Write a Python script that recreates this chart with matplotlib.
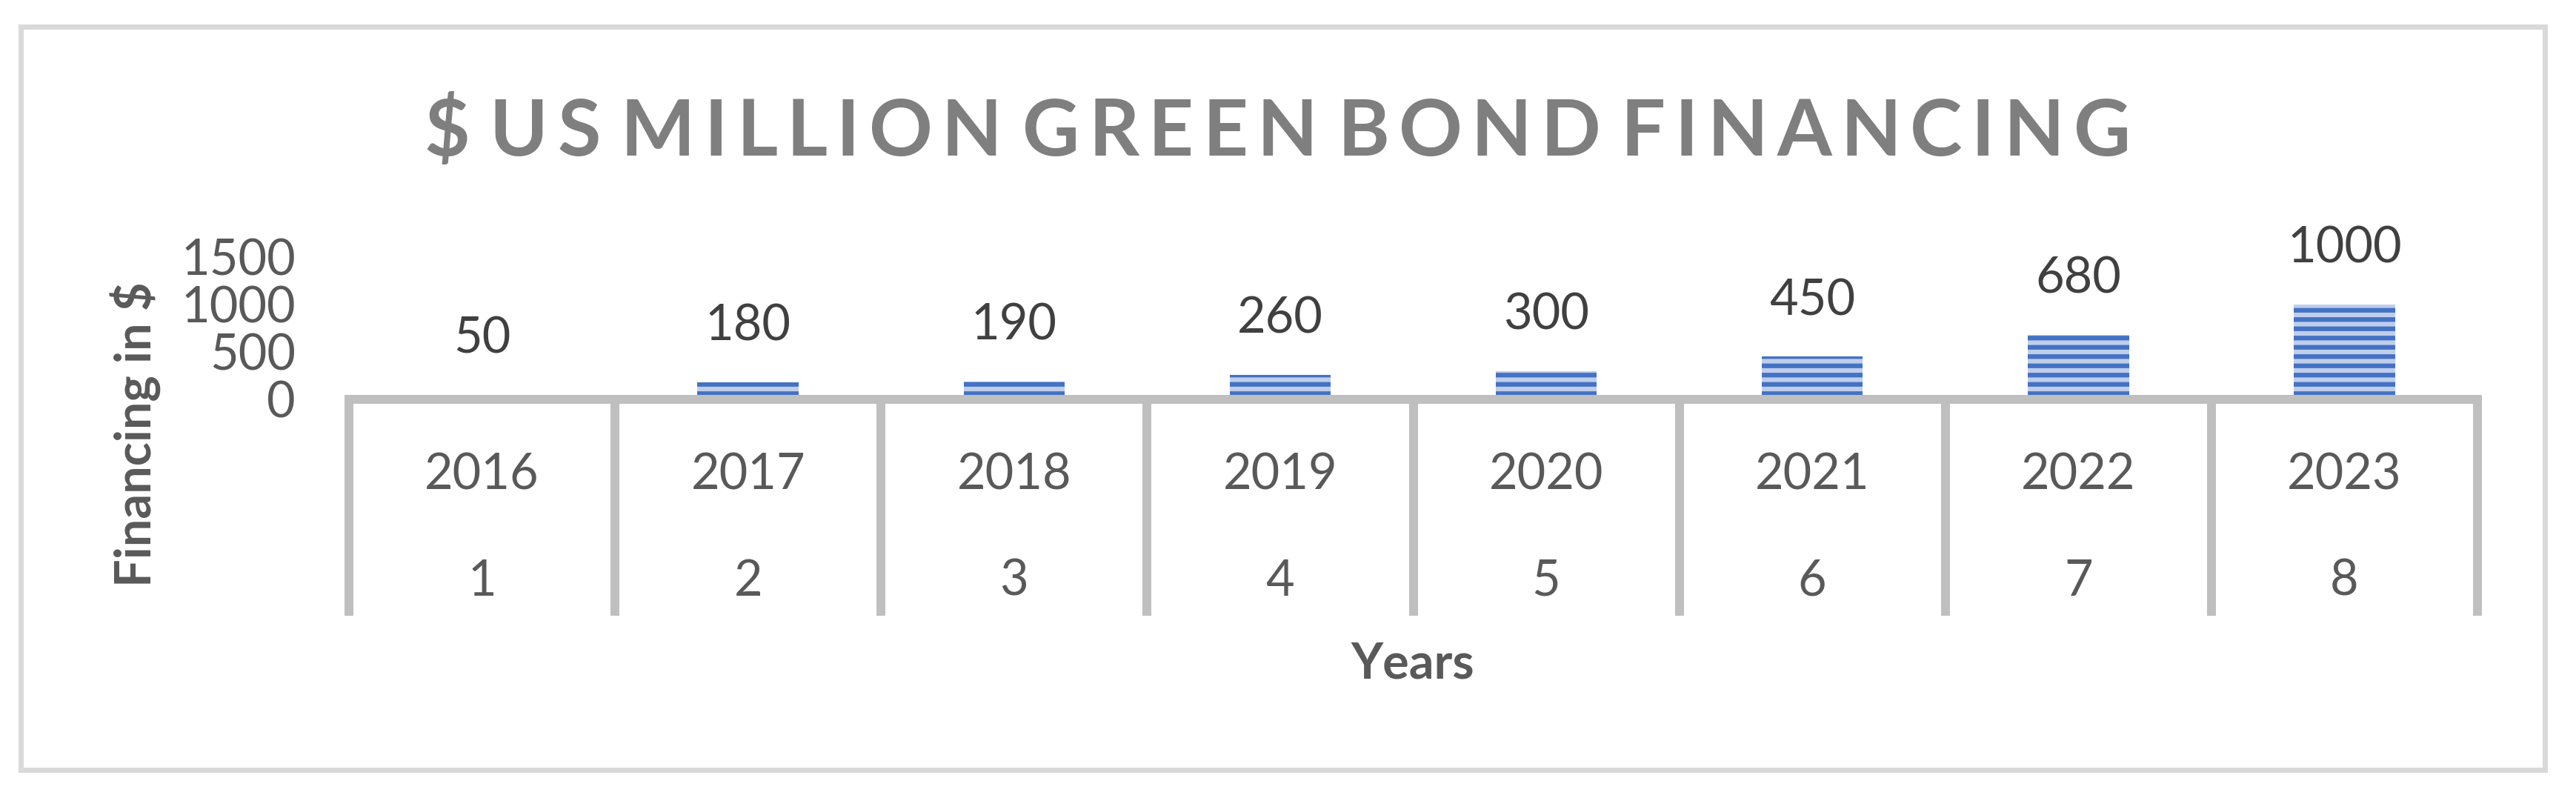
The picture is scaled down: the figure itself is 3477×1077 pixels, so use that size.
import matplotlib
matplotlib.use('Agg')
import matplotlib.pyplot as plt
from matplotlib.patches import Rectangle

# Data
years = ['2016', '2017', '2018', '2019', '2020', '2021', '2022', '2023']
index_labels = ['1', '2', '3', '4', '5', '6', '7', '8']
financing = [50, 180, 190, 260, 300, 450, 680, 1000]
y_ticks = [0, 500, 1000, 1500]
title = '$ US MILLION GREEN BOND FINANCING'

plt.rcParams['font.family'] = 'Lato'
plt.rcParams['hatch.linewidth'] = 3.0

DPI = 150
W, H = 3477, 1077
fig = plt.figure(figsize=(W / DPI, H / DPI), dpi=DPI)

ax = fig.add_axes([471 / W, 1 - 539 / H, (3344 - 471) / W, 192 / H])
x = list(range(len(years)))
ax.bar(x, financing, width=0.38, color='#BFCEEC', edgecolor='#4472C4',
       linewidth=0, hatch='--')
ax.set_xlim(-0.5, len(years) - 0.5)
ax.set_ylim(0, 1500)
ax.set_yticks(y_ticks)
ax.tick_params(axis='y', length=0, pad=34.5, labelsize=32, labelcolor='#595959')

# category separators as long tick marks
ax.set_xticks([i - 0.5 for i in range(len(years) + 1)])
ax.set_xticklabels([])
ax.tick_params(axis='x', length=140, width=5.76, color='#BFBFBF', direction='out')
for s in ['left', 'top', 'right']:
    ax.spines[s].set_visible(False)
ax.spines['bottom'].set_color('#BFBFBF')
ax.spines['bottom'].set_linewidth(5.76)

# data labels
for i, v in zip(x, financing):
    ax.annotate(str(v), (i, v), xytext=(0, 26.9), textcoords='offset points',
                ha='center', va='baseline', fontsize=32, color='#404040',
                annotation_clip=False)

# two-level category labels
for i in x:
    ax.annotate(years[i], (i, 0), xycoords=('data', 'axes fraction'),
                xytext=(0, -58.1), textcoords='offset points',
                ha='center', va='baseline', fontsize=32, color='#595959',
                annotation_clip=False)
    ax.annotate(index_labels[i], (i, 0), xycoords=('data', 'axes fraction'),
                xytext=(0, -127.2), textcoords='offset points',
                ha='center', va='baseline', fontsize=32, color='#595959',
                annotation_clip=False)

fig.text(1907 / W, 1 - 915 / H, 'Years', ha='center', va='baseline',
         fontsize=32, fontweight='bold', color='#595959')
fig.text(204 / W, 1 - 586 / H, 'Financing in $', rotation=90, rotation_mode='anchor',
         ha='center', va='baseline', fontsize=32, fontweight='bold', color='#595959')

# spaced-out title, placed letter by letter
renderer = fig.canvas.get_renderer()
tsize = 51
widths = {}
for ch in set(title.replace(' ', '')):
    t = fig.text(0, 0, ch, fontsize=tsize, fontweight='bold')
    widths[ch] = t.get_window_extent(renderer).width
    t.remove()
words = title.split(' ')
ink = sum(widths[c] for c in title if c != ' ')
n_letter_gaps = sum(len(w) - 1 for w in words)
n_word_gaps = len(words) - 1
gap = (2876 - 572 - ink) / (n_letter_gaps + 2.2 * n_word_gaps)
xpos = 572
for wi, word in enumerate(words):
    for ci, ch in enumerate(word):
        fig.text(xpos / W, 1 - 210 / H, ch, ha='left', va='baseline',
                 fontsize=tsize, fontweight='bold', color='#7F7F7F')
        xpos += widths[ch] + gap
    xpos += gap * 1.2

# outer chart border
fig.add_artist(Rectangle((28 / W, 1 - 1039 / H), 3407 / W, 1003 / H,
                         transform=fig.transFigure, fill=False,
                         edgecolor='#D9D9D9', linewidth=3.36))

plt.savefig('out.png', dpi=DPI)
plt.close()
